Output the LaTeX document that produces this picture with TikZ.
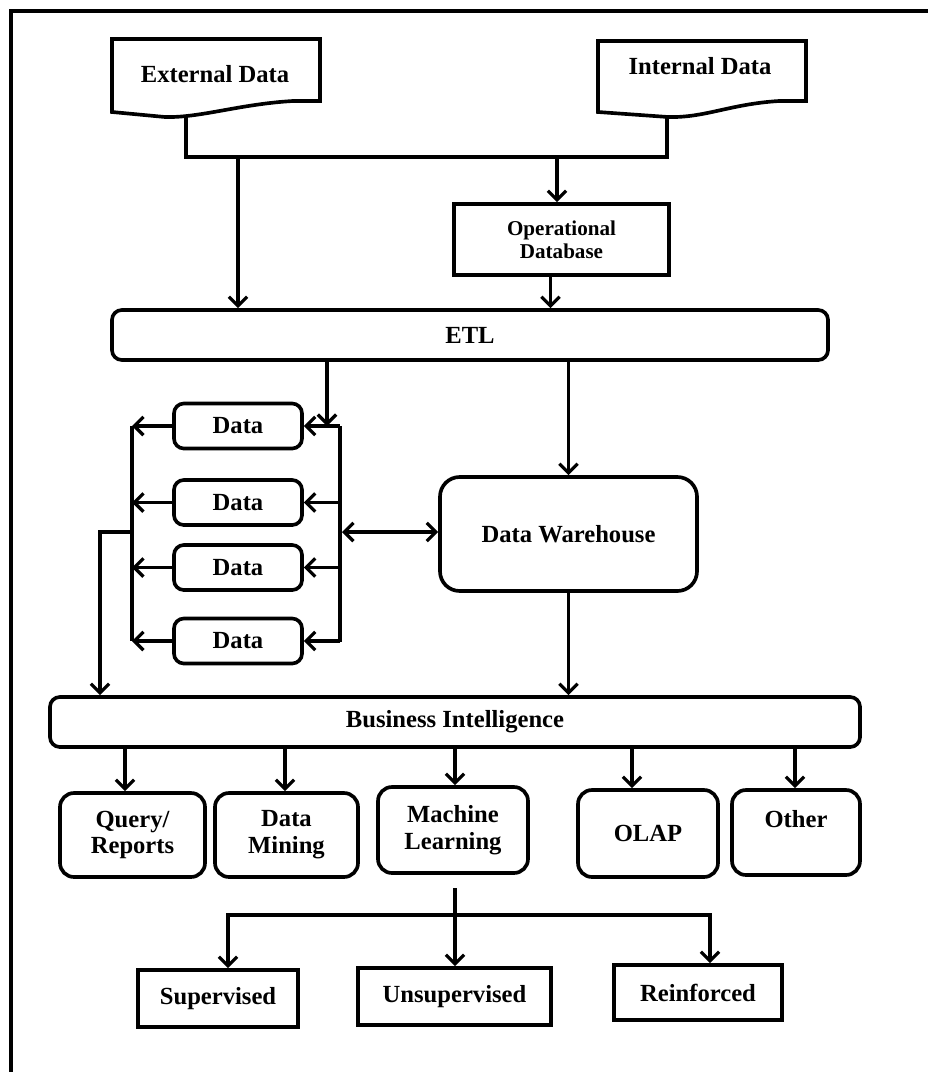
\documentclass[tikz,border=0pt]{standalone}
\usepackage{fontspec}
\setmainfont{Liberation Serif}
\usetikzlibrary{positioning}
\usetikzlibrary{calc}
\usetikzlibrary{arrows.meta}

\begin{document}
\begin{tikzpicture}[x=0.025cm, y=-0.025cm,
    box/.style={draw, line width=2.6pt, font=\bfseries\fontsize{17.5}{19}\selectfont, align=center, inner sep=0pt},
    rbox/.style={box, rounded corners=7pt},
    line/.style={line width=2.3pt},
    arr/.style={line width=2.3pt, -{Straight Barb[length=6.5pt, width=13pt]}},
    darr/.style={line width=2.3pt, {Straight Barb[length=6.5pt, width=13pt]}-{Straight Barb[length=6.5pt, width=13pt]}},
    ]

    \def\px{0.025cm}
    \useasboundingbox (0,0) rectangle (928,1072);

    % Frame
    \draw[line width=2.8pt] (11,1072) -- (11,11) -- (928,11);

    % Source documents
    \draw[line width=2.6pt] (112,39) -- (320,39) -- (320,101) -- (293,101) .. controls (240,104) and (200,118) .. (165,117) -- (112,112) -- cycle;
    \draw[line width=2.6pt] (598,41) -- (806,41) -- (806,101) -- (779,101) .. controls (730,104) and (705,118) .. (668,117) -- (598,112) -- cycle;
    \node[font=\bfseries\fontsize{17.5}{19}\selectfont] (ext) at (215,74) {External Data};
    \node[font=\bfseries\fontsize{17.5}{19}\selectfont] (int) at (700,66) {Internal Data};

    \coordinate (ext-s) at (186,116);
    \coordinate (int-s) at (667,116);
    \coordinate (src-j) at (186,157);
    \draw[line] (ext-s) -- (src-j) -| (int-s);

    % Operational database and ETL
    \node[box, minimum width=215*\px, minimum height=71*\px, font=\bfseries\fontsize{15}{16.5}\selectfont] (opdb) at (561.5,239.5) {Operational\\Database};
    \node[rbox, minimum width=716*\px, minimum height=50*\px] (etl) at (470,335) {ETL};

    \coordinate (j-ext) at (238,157);
    \coordinate (j-op) at (557,157);
    \draw[arr] (j-ext) -- (j-ext |- etl.north);
    \draw[arr] (j-op) -- (j-op |- opdb.north);
    \coordinate (op-o) at ($(opdb.south)+(-11,0)$);
    \draw[arr] (op-o) -- (op-o |- etl.north);

    % Data warehouse
    \node[rbox, rounded corners=14pt, minimum width=257*\px, minimum height=114*\px] (dw) at (568.5,534) {Data Warehouse};
    \draw[arr] (dw.north |- etl.south) -- (dw.north);

    % Data marts
    \foreach \n/\y in {1/426, 2/502.5, 3/567.5, 4/641} {
        \node[rbox, minimum width=128*\px, minimum height=45*\px] (data\n) at (238,\y) {Data};
    }
    \coordinate (rb-top) at (340,426);
    \coordinate (rb-bot) at (340,642);
    \coordinate (lb-top) at (132,426);
    \coordinate (lb-bot) at (132,641);
    \draw[line] (rb-top) -- (rb-bot);
    \draw[line] (lb-top) -- (lb-bot);
    \foreach \n in {1,...,4} {
        \draw[arr] (data\n.east -| rb-top) -- (data\n.east);
        \draw[arr] (data\n.west) -- (data\n.west -| lb-top);
    }
    \coordinate (rb-in) at (327,426);
    \draw[arr] (rb-in |- etl.south) -- (rb-in);
    \coordinate (rb-mid) at (342,532);
    \draw[darr] (rb-mid) -- (rb-mid -| dw.west);

    % Business intelligence
    \node[rbox, minimum width=810*\px, minimum height=50*\px] (bi) at (455,722) {Business Intelligence};
    \coordinate (lb-mid) at (132,532);
    \coordinate (lb-out) at (100,532);
    \draw[arr] (lb-mid) -- (lb-out) -- (lb-out |- bi.north);
    \draw[arr] (dw.south) -- (dw.south |- bi.north);

    % BI tools
    \node[rbox, rounded corners=10pt, minimum width=145*\px, minimum height=84*\px] (qr) at (132.5,835) {Query/\\Reports};
    \node[rbox, rounded corners=10pt, minimum width=143*\px, minimum height=84*\px] (dm) at (286.5,835) {Data\\Mining};
    \node[rbox, rounded corners=10pt, minimum width=150*\px, minimum height=86*\px] (ml) at (453,830) {Machine\\Learning};
    \node[rbox, rounded corners=10pt, minimum width=140*\px, minimum height=87*\px] (olap) at (648,833.5) {OLAP};
    \node[rbox, rounded corners=10pt, minimum width=128*\px, minimum height=85*\px] (other) at (796,832.5) {Other\\\mbox{}};
    \foreach \nm/\ax in {qr/125, dm/285, ml/455, olap/632, other/795} {
        \draw[arr] (\ax,0 |- bi.south) -- (\ax,0 |- \nm.north);
    }

    % Learning types
    \node[box, minimum width=160*\px, minimum height=57*\px] (sup) at (218,998.5) {Supervised};
    \node[box, minimum width=193*\px, minimum height=57*\px] (unsup) at (454.5,996.5) {Unsupervised};
    \node[box, minimum width=168*\px, minimum height=55*\px] (reinf) at (698,992.5) {Reinforced};

    \coordinate (ml-o) at (455,888);
    \coordinate (ml-j) at (455,915);
    \draw[arr] (ml-o) -- (ml-o |- unsup.north);
    \draw[arr] (ml-j) -| (228,0 |- sup.north);
    \draw[arr] (ml-j) -| (710,0 |- reinf.north);

\end{tikzpicture}
\end{document}
